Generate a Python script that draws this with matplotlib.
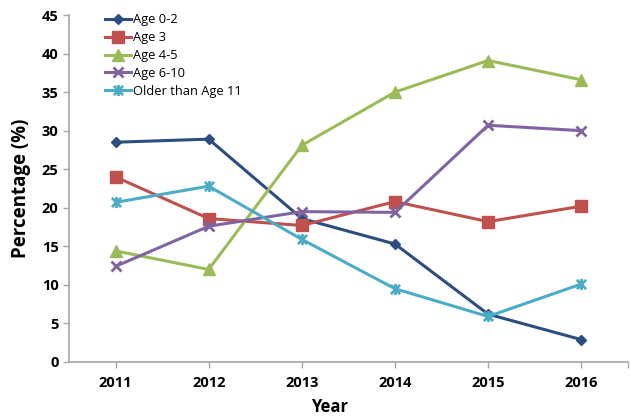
import matplotlib
matplotlib.use("Agg")
import matplotlib.pyplot as plt
from matplotlib.path import Path

plt.rcParams['font.family'] = ['Open Sans', 'DejaVu Sans']

years = [2011, 2012, 2013, 2014, 2015, 2016]
age_0_2 = [28.5, 28.9, 18.6, 15.3, 6.2, 2.9]
age_3 = [24.0, 18.6, 17.7, 20.8, 18.2, 20.2]
age_4_5 = [14.4, 12.0, 28.1, 35.0, 39.1, 36.6]
age_6_10 = [12.4, 17.6, 19.5, 19.4, 30.7, 30.0]
older_11 = [20.7, 22.8, 15.9, 9.5, 5.9, 10.1]
labels = ["Age 0-2", "Age 3", "Age 4-5", "Age 6-10", "Older than Age 11"]

star = Path([(-1, -1), (1, 1), (-1, 1), (1, -1), (0, -1.2), (0, 1.2)],
            [Path.MOVETO, Path.LINETO, Path.MOVETO, Path.LINETO, Path.MOVETO, Path.LINETO])

styles = [
    dict(color='#2C4D7F', marker='D', ms=5.5),
    dict(color='#C0504D', marker='s', ms=8),
    dict(color='#9BBB59', marker='^', ms=8.5),
    dict(color='#8064A2', marker='x', ms=6.5, mew=2),
    dict(color='#4BACC6', marker=star, ms=8, mew=2, fillstyle='none'),
]

fig = plt.figure(figsize=(6.3, 4.17), dpi=100)
ax = fig.add_axes([0.1095, 0.132, 0.887, 0.832])

for vals, lab, st in zip([age_0_2, age_3, age_4_5, age_6_10, older_11], labels, styles):
    ax.plot(years, vals, label=lab, lw=2.2, **st)

ax.set_xlim(2010.5, 2016.5)
ax.set_ylim(0, 45)
ax.set_xticks(years)
ax.set_xticklabels([str(y) for y in years])
ax.set_xticks([2016.5], minor=True)
ax.set_yticks(range(0, 46, 5))

for s in ['top', 'right']:
    ax.spines[s].set_visible(False)
for s in ['left', 'bottom']:
    ax.spines[s].set_color('#A6A6A6')
    ax.spines[s].set_linewidth(1.2)
ax.tick_params(axis='both', which='both', color='#A6A6A6', length=4, width=1)
ax.tick_params(axis='both', labelsize=10.5)
for t in ax.get_xticklabels() + ax.get_yticklabels():
    t.set_fontweight('bold')
ax.tick_params(axis='x', pad=6)

ax.set_ylabel('Percentage (%)', fontsize=13.5, fontweight='bold')
ax.yaxis.set_label_coords(-0.068, 0.5)
ax.set_xlabel('Year', fontsize=12, fontweight='bold')
ax.xaxis.set_label_coords(0.467, -0.105)

leg = ax.legend(loc='upper left', bbox_to_anchor=(0.056, 1.02), frameon=False,
                fontsize=9.3, handlelength=2.0, handletextpad=0.1,
                labelspacing=0.38, borderaxespad=0)

fig.savefig('out.png', dpi=100)
